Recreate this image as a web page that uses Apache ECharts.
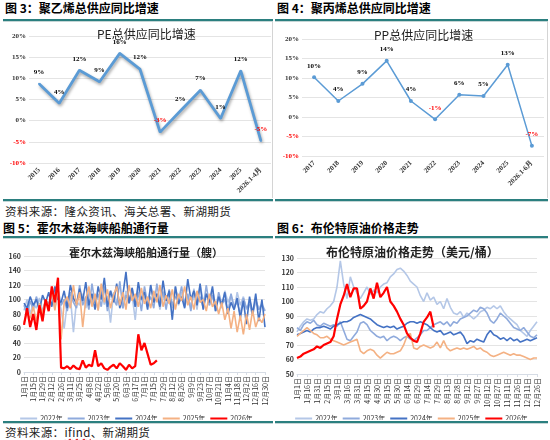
<!DOCTYPE html>
<html>
<head>
<meta charset="utf-8">
<script src="https://cdn.jsdelivr.net/npm/echarts@6/dist/echarts.min.js"></script>
<style>
    body { margin: 0; width: 550px; height: 440px; background: #fff; position: relative; overflow: hidden;
           font-family: "Noto Sans CJK SC", sans-serif; }
    .fig { position: absolute; font-size: 12px; font-weight: bold; color: #000; line-height: 14px; white-space: nowrap; }
    .rule { position: absolute; height: 2px; background: #2B7F7F; border-bottom: 1px solid #C5D6D6; }
    .src { position: absolute; font-size: 11.5px; color: #222; line-height: 14px; white-space: nowrap; letter-spacing: 0.4px; }
    .src u { text-decoration: underline wavy #E02020; }
    .chart { position: absolute; }
    .frame { border-right: 1px solid #D4D4D4; }
</style>
</head>
<body>
<div class="fig" style="left:5px;top:1px">图 3：聚乙烯总供应同比增速</div>
<div class="fig" style="left:277px;top:1px">图 4：聚丙烯总供应同比增速</div>
<div class="rule" style="left:3px;top:19px;width:270px"></div>
<div class="rule" style="left:275px;top:19px;width:273px"></div>
<div class="chart frame" id="pe" style="left:3px;top:22px;width:269px;height:176px"></div>
<div class="chart frame" id="pp" style="left:275px;top:22px;width:272px;height:176px"></div>
<div class="rule" style="left:3px;top:199px;width:270px"></div>
<div class="rule" style="left:275px;top:199px;width:273px"></div>
<div class="src" style="left:5px;top:204px">资料来源：隆众资讯、海关总署、新湖期货</div>
<div class="fig" style="left:3px;top:221px">图 5：霍尔木兹海峡船舶通行量</div>
<div class="fig" style="left:277px;top:221px">图 6：布伦特原油价格走势</div>
<div class="rule" style="left:3px;top:236px;width:270px"></div>
<div class="rule" style="left:275px;top:236px;width:273px"></div>
<div class="chart" id="hormuz" style="left:0px;top:240px;width:273px;height:180px"></div>
<div class="chart" id="brent" style="left:275px;top:240px;width:273px;height:180px"></div>
<div class="rule" style="left:3px;top:421px;width:270px"></div>
<div class="rule" style="left:275px;top:421px;width:273px"></div>
<div class="src" style="left:5px;top:425px">资料来源：<u>ifind</u>、新湖期货</div>

<script>
// PE / PP 总供应同比增速 (%)
var peYears = ['2015', '2016', '2017', '2018', '2019', '2020', '2021', '2022', '2023', '2024', '2025', '2026.1-4月'];
var peGrowth = [8.7, 4.1, 11.9, 9.2, 15.9, 12.2, -2.7, 2.3, 7.2, 0.5, 11.8, -4.8];
var ppYears = ['2017', '2018', '2019', '2020', '2021', '2022', '2023', '2024', '2025', '2026.1-6月'];
var ppGrowth = [10.2, 4.1, 8.5, 14.4, 4.1, -0.6, 5.7, 5.4, 13.4, -7.4];

// 霍尔木兹海峡船舶通行量 (艘), 3 points between tick labels
var hormuzTicks = ['1月1日', '1月15日', '1月29日', '2月12日', '2月26日', '3月11日', '3月25日', '4月8日', '4月22日',
    '5月6日', '5月20日', '6月3日', '6月17日', '7月1日', '7月15日', '7月29日', '8月12日', '8月26日', '9月9日',
    '9月23日', '10月7日', '10月21日', '11月4日', '11月18日', '12月2日', '12月16日', '12月30日'];
var ships2022 = [85, 100, 80, 95, 88, 102, 84, 98, 92, 105,
    90, 110, 86, 60, 95, 104, 55, 98, 92, 108,
    88, 112, 95, 102, 85, 116, 93, 105, 68, 110,
    96, 100, 88, 112, 94, 106, 72, 115, 98, 104,
    90, 120, 96, 108, 86, 112, 100, 96, 88, 118,
    92, 110, 95, 104, 90, 115, 86, 120, 98, 108,
    92, 114, 90, 102, 88, 112, 96, 106, 85, 110,
    92, 104, 86, 100, 82, 98, 88, 94, 85];
var ships2023 = [92, 80, 98, 86, 104, 90, 82, 100, 94, 108,
    88, 115, 92, 100, 84, 110, 96, 88, 120, 92,
    104, 86, 122, 95, 108, 90, 118, 84, 112, 100,
    92, 125, 88, 106, 96, 116, 90, 110, 84, 118,
    94, 104, 88, 122, 96, 110, 86, 114, 92, 104,
    98, 118, 90, 108, 84, 112, 96, 104, 88, 120,
    92, 106, 84, 110, 94, 100, 82, 108, 90, 96,
    80, 102, 88, 94, 78, 100, 86, 92, 84];
var ships2024 = [95, 88, 104, 92, 100, 85, 106, 96, 110, 90,
    118, 100, 96, 112, 88, 120, 102, 94, 115, 98,
    124, 92, 108, 86, 118, 100, 130, 90, 112, 96,
    122, 88, 106, 138, 95, 116, 90, 124, 100, 110,
    86, 120, 96, 108, 90, 126, 98, 112, 72, 118,
    94, 104, 88, 128, 100, 112, 92, 122, 86, 108,
    96, 118, 84, 104, 92, 110, 80, 96, 86, 102,
    74, 98, 66, 104, 80, 108, 70, 100, 62];
var ships2025 = [68, 82, 74, 90, 70, 95, 80, 100, 88, 112,
    85, 118, 45, 96, 104, 88, 120, 92, 110, 62,
    100, 118, 90, 108, 85, 122, 96, 114, 88, 106,
    118, 92, 110, 86, 120, 98, 108, 90, 116, 94,
    104, 88, 112, 96, 120, 90, 106, 94, 114, 86,
    108, 98, 118, 92, 104, 86, 112, 96, 100, 84,
    108, 90, 98, 80, 96, 72, 88, 60, 84, 55,
    78, 52, 80, 58, 85, 62, 75, 68, 80];
var ships2026 = [65, 88, 62, 80, 58, 92, 70, 100, 84, 118,
    96, 130, 6, 5, 8, 4, 9, 5, 4, 16,
    6, 10, 8, 30, 8, 12, 5, 3, 7, 10,
    5, 12, 8, 3, 10, 5, 8, 52, 30, 40,
    25, 10, 12, 16];

// 布伦特原油价格 (美元/桶), 3 points between tick labels
var brentTicks = ['1月1日', '1月16日', '1月31日', '2月15日', '3月1日', '3月16日', '3月31日', '4月15日', '4月30日',
    '5月15日', '5月30日', '6月14日', '6月29日', '7月14日', '7月29日', '8月13日', '8月28日', '9月12日', '9月27日',
    '10月12日', '10月27日', '11月11日', '11月26日', '12月11日', '12月26日'];
var brent2022 = [79, 83, 86, 88, 87, 88, 91, 93, 92, 95,
    97, 100, 110, 128, 112, 102, 117, 110, 106, 102,
    106, 110, 105, 108, 106, 110, 112, 113, 117, 119,
    122, 123, 121, 118, 114, 112, 110, 104, 100, 106,
    101, 103, 98, 100, 95, 102, 96, 92, 91, 93,
    89, 92, 90, 88, 90, 93, 94, 96, 95, 97,
    95, 97, 93, 90, 88, 86, 84, 80, 78, 76,
    80, 83, 86];
var brent2023 = [82, 80, 84, 86, 85, 87, 84, 83, 85, 84,
    83, 84, 83, 86, 80, 74, 73, 76, 79, 85,
    86, 84, 80, 78, 76, 75, 76, 73, 75, 76,
    75, 73, 75, 76, 74, 73, 75, 77, 80, 80,
    82, 84, 85, 86, 84, 86, 83, 86, 85, 88,
    89, 90, 92, 94, 93, 96, 95, 92, 87, 85,
    88, 92, 90, 88, 85, 82, 81, 80, 82, 79,
    76, 75, 77];
var brent2024 = [77, 78, 79, 80, 79, 81, 82, 82, 83, 82,
    81, 83, 84, 85, 86, 86, 87, 89, 90, 91,
    90, 89, 88, 86, 84, 83, 82, 83, 82, 83,
    81, 82, 83, 85, 86, 86, 85, 86, 85, 84,
    82, 80, 79, 80, 77, 78, 79, 77, 78, 79,
    76, 71, 73, 72, 74, 73, 72, 77, 80, 77,
    76, 74, 75, 73, 75, 73, 74, 72, 73, 74,
    73, 74, 75];
var brent2025 = [76, 78, 80, 82, 80, 78, 77, 75, 75, 76,
    74, 73, 72, 71, 70, 71, 72, 73, 74, 66,
    64, 66, 67, 66, 63, 61, 63, 65, 64, 64,
    65, 66, 70, 76, 78, 68, 67, 69, 70, 69,
    68, 69, 72, 68, 73, 68, 66, 67, 68, 67,
    68, 67, 68, 69, 67, 68, 66, 65, 63, 62,
    63, 64, 65, 64, 63, 64, 63, 63, 62, 61,
    60, 61, 61];
var brent2026 = [61, 62, 64, 65, 66, 67, 69, 68, 70, 71,
    72, 76, 88, 98, 104, 112, 103, 109, 109, 95,
    97, 100, 109, 102, 113, 103, 106, 110, 100, 97,
    93, 88, 84, 78, 75, 73, 72, 78, 86, 89,
    93, 82];

var yearNames = ['2022年', '2023年', '2024年', '2025年', '2026年'];
var yearColors = ['#B4C7E7', '#8FAADC', '#4472C4', '#F4B183', '#FF0000'];

var SERIF = "'Liberation Serif', 'Times New Roman', serif";
var CJK = "'Noto Sans CJK SC', sans-serif";

function spreadTicks(ticks, step, total) {
    var cats = [];
    for (var i = 0; i < total; i++) {
        cats.push(i % step == 0 ? ticks[i / step] : '');
    }
    return cats;
}

function pctLabel(p) {
    var v = Math.round(p.value);
    return v < 0 ? '{neg|' + v + '%}' : '{pos|' + v + '%}';
}

function growthOption(options) {
    return {
        animation: false,
        title: {
            text: options.name,
            left: options.titleLeft,
            top: options.titleTop,
            textStyle: { fontSize: 12, fontWeight: 'normal', color: '#222', fontFamily: CJK }
        },
        grid: options.grid,
        xAxis: {
            type: 'category',
            data: options.labels,
            axisLine: { show: false },
            axisTick: { show: false },
            axisLabel: {
                rotate: 45, interval: 0, margin: 6,
                fontSize: 7, fontWeight: 'bold', color: '#333', fontFamily: SERIF
            }
        },
        yAxis: {
            type: 'value',
            min: -10, max: 20, interval: 5,
            axisLine: { show: false },
            axisTick: { show: false },
            splitLine: { lineStyle: { color: '#E4E4E4', width: 1 } },
            axisLabel: {
                formatter: '{value}%', margin: 3,
                fontSize: 7, fontWeight: 'bold', fontFamily: SERIF,
                color: function (v) {
                    return Number(v) < 0 ? '#FF0000' : '#333';
                }
            }
        },
        series: [{
            type: 'line',
            data: options.values,
            symbol: 'circle',
            symbolSize: options.symbolSize,
            showAllSymbol: true,
            itemStyle: { color: '#5B9BD5' },
            lineStyle: options.lineStyle,
            labelLayout: { hideOverlap: false },
            label: {
                show: true,
                position: 'top',
                distance: options.labelGap,
                formatter: pctLabel,
                rich: {
                    pos: { color: '#000', fontSize: 7, fontWeight: 'bold', fontFamily: SERIF },
                    neg: { color: '#FF0000', fontSize: 7, fontWeight: 'bold', fontFamily: SERIF }
                }
            }
        }]
    };
}

function yearsOption(options) {
    var series = options.lines.map(function (values, i) {
        return {
            name: yearNames[i],
            type: 'line',
            data: values,
            symbol: 'none',
            lineStyle: { color: yearColors[i], width: i == 4 ? 2.2 : 1.6 },
            itemStyle: { color: yearColors[i] },
            z: 2 + i
        };
    });
    return {
        animation: false,
        title: {
            text: options.name,
            left: options.titleLeft,
            top: options.titleTop,
            textStyle: { fontSize: options.titleSize, fontWeight: 'bold', color: '#222', fontFamily: CJK }
        },
        legend: {
            data: yearNames,
            left: 'center',
            top: 170,
            width: 270,
            icon: 'rect',
            itemWidth: 17,
            itemHeight: 2,
            itemGap: 5,
            textStyle: { fontSize: 7, color: '#333', fontFamily: CJK, padding: [0, 0, 0, -2] }
        },
        grid: options.grid,
        xAxis: {
            type: 'category',
            boundaryGap: false,
            data: options.categories,
            axisLine: { lineStyle: { color: '#D6DCE5' } },
            axisTick: { interval: 2, length: 3, lineStyle: { color: '#D6DCE5' } },
            axisLabel: {
                rotate: 90, interval: 2, margin: 4,
                fontSize: 7, color: '#333', fontFamily: CJK
            }
        },
        yAxis: {
            type: 'value',
            min: options.min, max: options.max, interval: options.interval,
            axisLine: { show: false },
            axisTick: { show: false },
            splitLine: { lineStyle: { color: '#E4E4E4', width: 1 } },
            axisLabel: { margin: 3, fontSize: 7, fontWeight: 'bold', color: '#333', fontFamily: CJK }
        },
        series: series
    };
}

var peChart = echarts.init(document.getElementById('pe'));
peChart.setOption(growthOption({
    name: 'PE总供应同比增速',
    titleLeft: 89, titleTop: 1,
    grid: { left: 26, top: 14, width: 242, height: 127 },
    labels: peYears,
    values: peGrowth,
    symbolSize: 2,
    labelGap: 7,
    lineStyle: {
        color: '#5B9BD5', width: 2.8,
        shadowColor: 'rgba(0,0,0,0.35)', shadowBlur: 3, shadowOffsetX: 1, shadowOffsetY: 2
    }
}));

var ppChart = echarts.init(document.getElementById('pp'));
ppChart.setOption(growthOption({
    name: 'PP总供应同比增速',
    titleLeft: 94, titleTop: 2,
    grid: { left: 27, top: 17, width: 242, height: 117 },
    labels: ppYears,
    values: ppGrowth,
    symbolSize: 4,
    labelGap: 6,
    lineStyle: { color: '#5B9BD5', width: 1.5 }
}));

var hormuzChart = echarts.init(document.getElementById('hormuz'));
hormuzChart.setOption(yearsOption({
    name: '霍尔木兹海峡船舶通行量（艘）',
    titleLeft: 64, titleTop: 2, titleSize: 11,
    grid: { left: 24, top: 16, width: 241, height: 116 },
    categories: spreadTicks(hormuzTicks, 3, ships2022.length),
    min: 0, max: 160, interval: 20,
    lines: [ships2022, ships2023, ships2024, ships2025, ships2026]
}));

var brentChart = echarts.init(document.getElementById('brent'));
brentChart.setOption(yearsOption({
    name: '布伦特原油价格走势（美元/桶）',
    titleLeft: 46, titleTop: 1, titleSize: 12,
    grid: { left: 22, top: 18, width: 240, height: 116 },
    categories: spreadTicks(brentTicks, 3, brent2022.length),
    min: 50, max: 130, interval: 10,
    lines: [brent2022, brent2023, brent2024, brent2025, brent2026]
}));
</script>
</body>
</html>
